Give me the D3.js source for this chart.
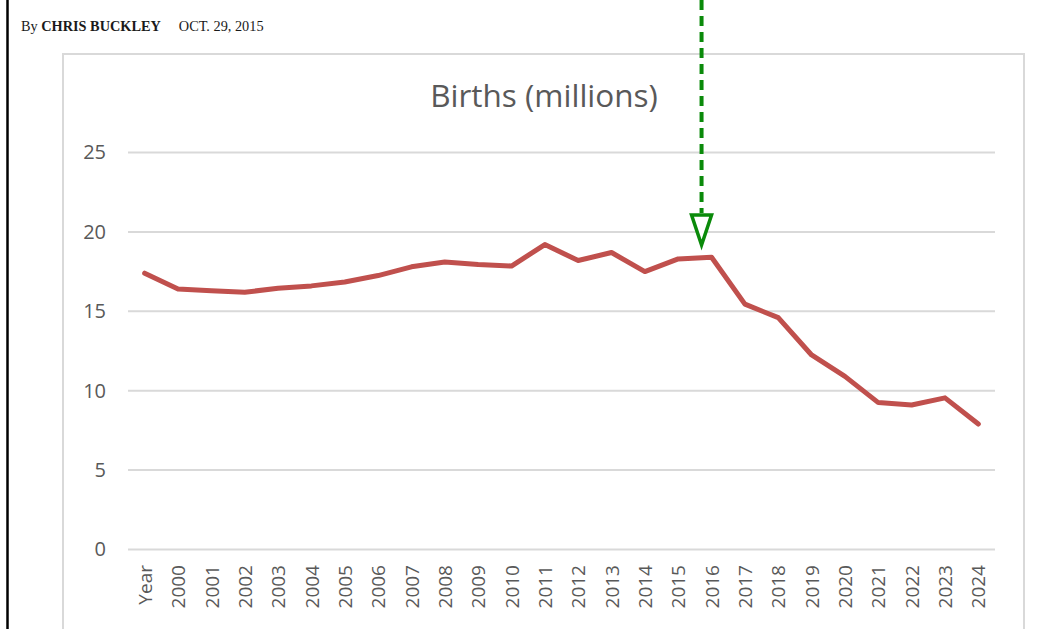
<!DOCTYPE html>
<html>
<head>
<meta charset="utf-8">
<script src="https://cdn.jsdelivr.net/npm/d3@7"></script>
<style>
  body { margin: 0; background: #fff; }
  svg { display: block; }
</style>
</head>
<body>
<div id="chart"></div>
<script>
var w = 1044,
	h = 629;

// data
var categories = ['Year', '2000', '2001', '2002', '2003', '2004', '2005', '2006', '2007', '2008',
	'2009', '2010', '2011', '2012', '2013', '2014', '2015', '2016', '2017', '2018',
	'2019', '2020', '2021', '2022', '2023', '2024'];
var births = [17.4, 16.4, 16.3, 16.2, 16.45, 16.6, 16.85, 17.25, 17.8, 18.1,
	17.95, 17.85, 19.2, 18.2, 18.7, 17.5, 18.3, 18.4, 15.45, 14.6,
	12.25, 10.9, 9.25, 9.1, 9.55, 7.9];
var yTicks = [0, 5, 10, 15, 20, 25];
var title = 'Births (millions)';
var marker = { after: '2015', frac: 0.7 };

var svg = d3.select('#chart').append('svg')
	.attr('width', w)
	.attr('height', h);

// page rule on the left
svg.append('line')
	.attr('x1', 7.5).attr('x2', 7.5)
	.attr('y1', 0).attr('y2', h)
	.style('stroke', '#000')
	.style('stroke-width', 2.5);

// byline
var by = svg.append('text')
	.attr('x', 21)
	.attr('y', 31)
	.style('font-family', '"Liberation Serif", "DejaVu Serif", serif')
	.style('font-size', '14.3px')
	.style('fill', '#1a1a1a');
by.append('tspan').text('By ');
by.append('tspan').style('font-weight', 'bold').text('CHRIS BUCKLEY');
by.append('tspan').attr('dx', 18).text('OCT. 29, 2015');

// chart frame
svg.append('path')
	.attr('d', 'M63,' + h + 'V54H1024V' + h)
	.style('fill', 'none')
	.style('stroke', '#d9d9d9')
	.style('stroke-width', 2);

var x = d3.scalePoint()
	.domain(categories)
	.range([128, 995])
	.padding(0.5);

var y = d3.scaleLinear()
	.domain([0, 25])
	.range([549.5, 152.5]);

// gridlines
svg.append('g')
	.selectAll('line')
	.data(yTicks)
	.enter().append('line')
	.attr('x1', 128).attr('x2', 995)
	.attr('y1', function(d) { return y(d) })
	.attr('y2', function(d) { return y(d) })
	.style('stroke', '#d9d9d9')
	.style('stroke-width', 2);

// y axis labels
var yAxis = svg.append('g')
	.attr('transform', 'translate(116,0)')
	.call(d3.axisLeft(y).tickValues(yTicks).tickSize(0).tickPadding(10));
yAxis.select('.domain').remove();
yAxis.selectAll('text')
	.style('font-family', '"Open Sans", sans-serif')
	.style('font-size', '20px')
	.style('fill', '#595959');

// x axis labels
var xAxis = svg.append('g')
	.attr('transform', 'translate(0,' + 562 + ')')
	.call(d3.axisBottom(x).tickSize(0).tickPadding(0));
xAxis.select('.domain').remove();
xAxis.selectAll('text')
	.attr('transform', 'rotate(-90)')
	.attr('x', -3)
	.attr('y', 0)
	.attr('dy', '0.35em')
	.style('text-anchor', 'end')
	.style('font-family', '"Open Sans", sans-serif')
	.style('font-size', '19px')
	.style('fill', '#595959');

// title
svg.append('text')
	.attr('x', 544)
	.attr('y', 107)
	.attr('text-anchor', 'middle')
	.style('font-family', '"Open Sans", sans-serif')
	.style('font-size', '31.5px')
	.style('fill', '#595959')
	.text(title);

// births line
var line = d3.line()
	.x(function(d, i) { return x(categories[i]) })
	.y(function(d) { return y(d) });

svg.append('path')
	.datum(births)
	.attr('d', line)
	.style('fill', 'none')
	.style('stroke', '#c0504d')
	.style('stroke-width', 5)
	.style('stroke-linejoin', 'round')
	.style('stroke-linecap', 'round');

// green dashed arrow pointing at the turn
var i0 = categories.indexOf(marker.after);
var mx = x(categories[i0]) + marker.frac * x.step();
svg.append('line')
	.attr('x1', mx).attr('x2', mx)
	.attr('y1', 0).attr('y2', 213)
	.style('stroke', '#0a8a0a')
	.style('stroke-width', 4)
	.style('stroke-dasharray', '10,6');
svg.append('path')
	.attr('d', 'M' + (mx - 10) + ',215L' + (mx + 10) + ',215L' + mx + ',245Z')
	.style('fill', '#fff')
	.style('stroke', '#0a8a0a')
	.style('stroke-width', 3.5);
</script>
</body>
</html>
